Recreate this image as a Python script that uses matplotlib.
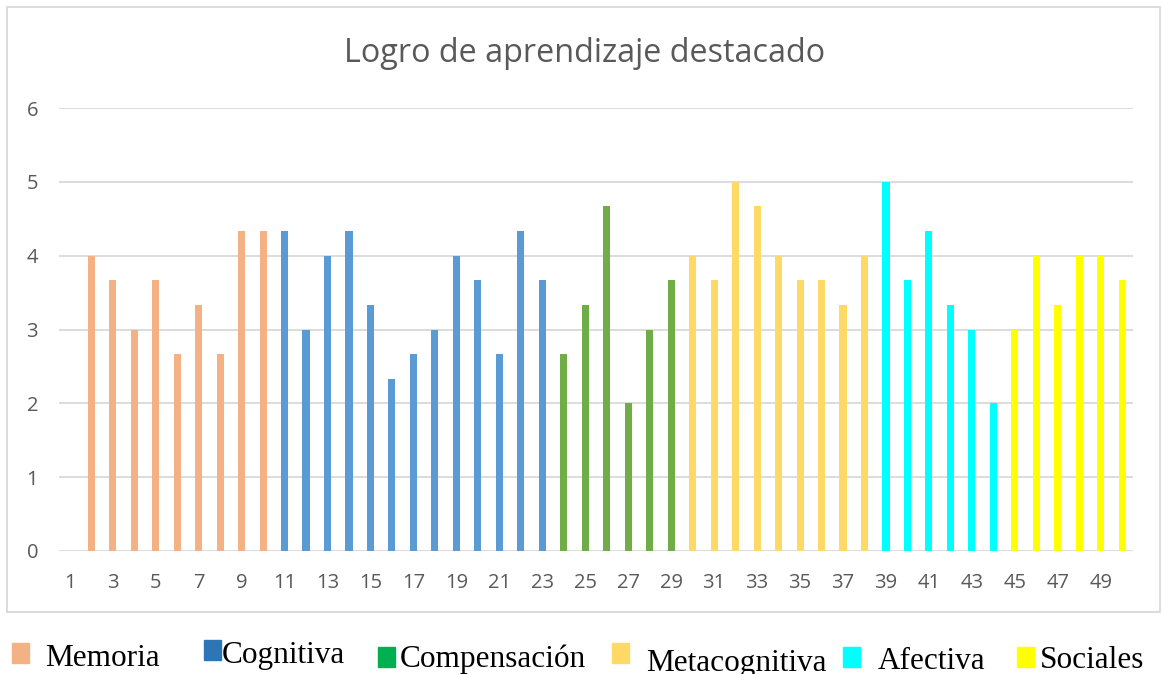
import matplotlib

matplotlib.use("Agg")
import matplotlib.pyplot as plt  # noqa: E402
from matplotlib.patches import Rectangle  # noqa: E402

title = "Logro de aprendizaje destacado"

# category 1 has no bar; groups follow in order from category 2
memoria = [4, 3.67, 3, 3.67, 2.67, 3.33, 2.67, 4.33, 4.33]
cognitiva = [4.33, 3, 4, 4.33, 3.33, 2.33, 2.67, 3, 4, 3.67, 2.67, 4.33, 3.67]
compensacion = [2.67, 3.33, 4.67, 2, 3, 3.67]
metacognitiva = [4, 3.67, 5, 4.67, 4, 3.67, 3.67, 3.33, 4]
afectiva = [5, 3.67, 4.33, 3.33, 3, 2]
sociales = [3, 4, 3.33, 4, 4, 3.67]

groups = ["Memoria", "Cognitiva", "Compensación", "Metacognitiva", "Afectiva", "Sociales"]
group_values = [memoria, cognitiva, compensacion, metacognitiva, afectiva, sociales]
bar_colors = ["#F4B183", "#5B9BD5", "#70AD47", "#FFD966", "#00FFFF", "#FFFF00"]
legend_colors = ["#F4B183", "#2E75B6", "#00B050", "#FFD966", "#00FFFF", "#FFFF00"]

n_cat = 50
x_ticks = list(range(1, n_cat + 1, 2))

W, H = 1162, 674
fig = plt.figure(figsize=(W / 100, H / 100), dpi=100)

# chart border
fig.patches.append(Rectangle((7 / W, 1 - 612 / H), 1153 / W, 605 / H,
                             transform=fig.transFigure, fill=False,
                             edgecolor="#D9D9D9", linewidth=1.3))

ax = fig.add_axes([59 / W, 1 - 551 / H, (1133 - 59) / W, (551 - 108) / H])

pos = 2
for vals, col in zip(group_values, bar_colors):
    xs = list(range(pos, pos + len(vals)))
    ax.bar(xs, vals, width=0.33, color=col, zorder=3)
    pos += len(vals)

ax.set_xlim(0.5, n_cat + 0.5)
ax.set_ylim(0, 6)
ax.set_yticks(range(0, 7))
ax.set_xticks(x_ticks)
ax.set_xticklabels([str(t) for t in x_ticks])
ax.grid(axis="y", color="#D9D9D9", linewidth=1.3, zorder=0)
for s in ax.spines.values():
    s.set_visible(False)
ax.tick_params(length=0, labelsize=14.5, labelcolor="#595959")
ax.tick_params(axis="x", pad=16)
ax.tick_params(axis="y", pad=15)
for lbl in ax.get_xticklabels() + ax.get_yticklabels():
    lbl.set_family("Open Sans")

fig.text(585 / W, 1 - 54 / H, title, ha="center", va="center",
         fontsize=23.3, color="#595959", family="Open Sans")

# legend below the chart box (items sit at slightly different heights)
leg_sq = [(12, 643), (204, 640), (378, 647), (612, 643), (843, 647), (1017, 647)]
leg_tx = [(45, 666), (222, 663), (400, 667), (646, 671), (878, 669), (1040, 668)]
for name, col, (sx, sy), (tx, ty) in zip(groups, legend_colors, leg_sq, leg_tx):
    fig.patches.append(Rectangle((sx / W, 1 - (sy + 20) / H), 17 / W, 20 / H,
                                 transform=fig.transFigure, color=col))
    fig.text(tx / W, 1 - ty / H, name, ha="left", va="baseline",
             fontsize=22.5, family="Liberation Serif", color="black")

fig.savefig("out.png", dpi=100)
plt.close(fig)
